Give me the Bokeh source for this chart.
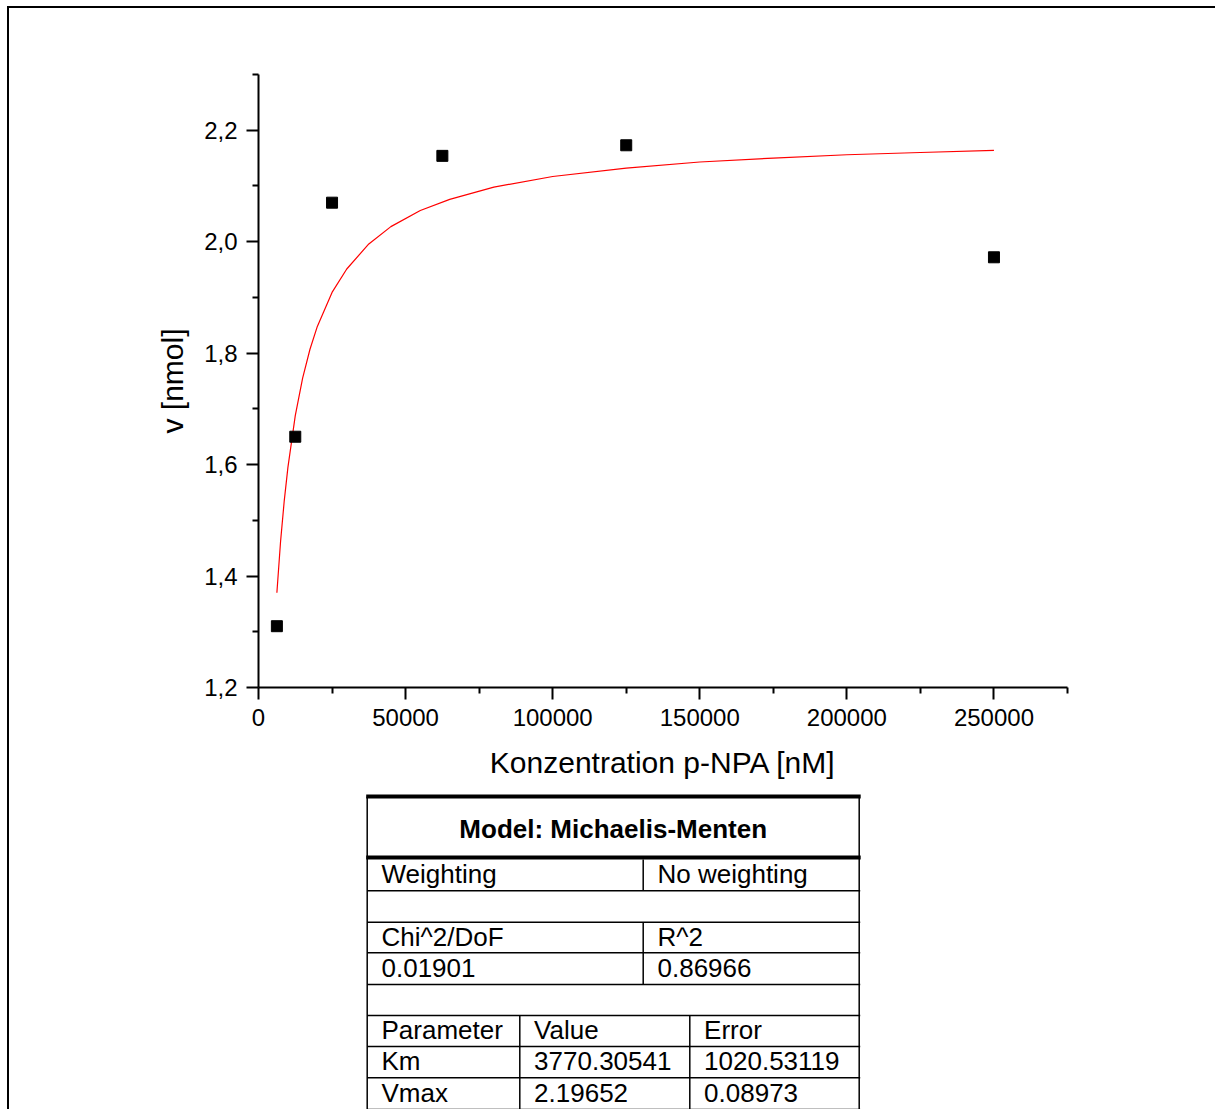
from bokeh.plotting import figure
from bokeh.models import Range1d, FixedTicker, CustomJSTickFormatter
from bokeh.layouts import column
from bokeh.core.properties import value
from bokeh.embed import file_html
from bokeh.resources import INLINE

# ---------------- data ----------------
conc = [6250, 12500, 25000, 62500, 125000, 250000]          # nM
rate = [1.31, 1.65, 2.07, 2.154, 2.173, 1.972]              # nmol

fit_x = [6250, 7500, 8750, 10000, 12500, 15000, 17500, 20000, 25000, 30000,
         37500, 45000, 55000, 65000, 80000, 100000, 125000, 150000, 175000,
         200000, 225000, 250000]
fit_y = [1.370, 1.462, 1.535, 1.595, 1.688, 1.755, 1.807, 1.848, 1.909, 1.951,
         1.996, 2.027, 2.056, 2.076, 2.098, 2.117, 2.132, 2.143, 2.150,
         2.156, 2.160, 2.164]

x_ticks = [0, 50000, 100000, 150000, 200000, 250000]
x_minor = [25000, 75000, 125000, 175000, 225000, 275000]
y_ticks = [1.2, 1.4, 1.6, 1.8, 2.0, 2.2]
y_minor = [1.3, 1.5, 1.7, 1.9, 2.1, 2.3]

x_label = "Konzentration p-NPA [nM]"
y_label = "v [nmol]"

table_title = "Model: Michaelis-Menten"
table_rows = [
    ["Weighting", "No weighting"],
    [],
    ["Chi^2/DoF", "R^2"],
    ["0.01901", "0.86966"],
    [],
    ["Parameter", "Value", "Error"],
    ["Km", "3770.30541", "1020.53119"],
    ["Vmax", "2.19652", "0.08973"],
]

FONT = "Liberation Sans"
X0, Y0 = 9, 8            # page position of the figures' top-left corner
W = 1206
BL, BR = 249, 148        # side borders -> frame from 258 to 1067
HA = 782

# ---------------- main plot ----------------
pA = figure(width=W, height=HA,
            x_range=Range1d(0, 275000), y_range=Range1d(1.2, 2.3),
            output_backend="svg", toolbar_location=None,
            min_border_left=BL, min_border_right=BR,
            min_border_top=66, min_border_bottom=HA - 66 - 613)
pA.outline_line_color = None
pA.xgrid.visible = False
pA.ygrid.visible = False

pA.line(fit_x, fit_y, line_color="red", line_width=1.2)
pA.scatter(conc, rate, marker="square", size=11, fill_color="black",
           line_color="black", line_width=1)

pA.xaxis.ticker = FixedTicker(ticks=x_ticks, minor_ticks=x_minor)
pA.yaxis.ticker = FixedTicker(ticks=y_ticks, minor_ticks=y_minor)
pA.xaxis.formatter = CustomJSTickFormatter(code="return tick.toFixed(0);")
pA.yaxis.formatter = CustomJSTickFormatter(code="return tick.toFixed(1).replace('.', ',');")
pA.xaxis.axis_label = x_label
pA.yaxis.axis_label = y_label

for ax in (pA.xaxis[0], pA.yaxis[0]):
    ax.axis_line_width = 2
    ax.axis_line_color = "black"
    ax.major_tick_line_width = 2
    ax.minor_tick_line_width = 2
    ax.major_tick_line_color = "black"
    ax.minor_tick_line_color = "black"
    ax.major_tick_out = 12
    ax.major_tick_in = 0
    ax.minor_tick_out = 6
    ax.minor_tick_in = 0
    ax.major_label_text_font = FONT
    ax.major_label_text_font_size = "24px"
    ax.major_label_text_color = "black"
    ax.major_label_standoff = 9
    ax.axis_label_text_font = FONT
    ax.axis_label_text_font_size = "30px"
    ax.axis_label_text_font_style = "normal"
    ax.axis_label_text_color = "black"
pA.xaxis[0].axis_label_standoff = 17
pA.yaxis[0].axis_label_standoff = 12

# ---------------- results table ----------------
TOP = Y0 + HA            # 790
BOTTOM = 1109
pB = figure(width=W, height=BOTTOM - TOP,
            x_range=Range1d(X0 + BL, X0 + W - BR), y_range=Range1d(BOTTOM, TOP),
            output_backend="svg", toolbar_location=None,
            min_border_left=BL, min_border_right=BR,
            min_border_top=0, min_border_bottom=0,
            x_axis_location=None, y_axis_location=None)
pB.outline_line_color = None
pB.xgrid.visible = False
pB.ygrid.visible = False

TL, TR = 366.7, 858.7
row_edges = [859, 890.3, 921.7, 952.3, 984, 1015, 1046, 1077.3, 1109]
col_edges = {2: [TL, 642.7], 3: [TL, 519.3, 689.3]}

# thick lines around title
pB.segment(x0=[TL - 1, TL - 1], y0=[796, 857], x1=[TR + 1.5, TR + 1.5], y1=[796, 857],
           line_color="black", line_width=4)
# thin horizontal row lines
pB.segment(x0=[TL] * (len(row_edges) - 1), y0=row_edges[1:],
           x1=[TR + 1] * (len(row_edges) - 1), y1=row_edges[1:],
           line_color="black", line_width=1.5)
# outer verticals
pB.segment(x0=[TL, TR], y0=[796, 796], x1=[TL, TR], y1=[1109, 1109],
           line_color="black", line_width=1.5)
# inner verticals
vx0, vy0, vy1 = [], [], []
for i, row in enumerate(table_rows):
    if len(row) > 1:
        for e in col_edges[len(row)][1:]:
            vx0.append(e)
            vy0.append(row_edges[i])
            vy1.append(row_edges[i + 1])
pB.segment(x0=vx0, y0=vy0, x1=vx0, y1=vy1, line_color="black", line_width=1.5)

# title
pB.text(x=[(TL + TR) / 2], y=[828], text=[table_title],
        text_font=value(FONT), text_font_size="26px", text_font_style="bold",
        text_align="center", text_baseline="middle", text_color="black")

# cell texts
tx, ty, tt = [], [], []
for i, row in enumerate(table_rows):
    if not row:
        continue
    edges = col_edges[len(row)]
    mid = (row_edges[i] + row_edges[i + 1]) / 2 - 0.8
    for j, s in enumerate(row):
        tx.append(edges[j] + 14.3)
        ty.append(mid)
        tt.append(s)
pB.text(x=tx, y=ty, text=tt, text_font=value(FONT), text_font_size="26px",
        text_align="left", text_baseline="middle", text_color="black")

layout = column(pA, pB, spacing=0,
                styles={"margin-left": "7px", "margin-top": "6px",
                        "border-top": "2px solid black",
                        "border-left": "2px solid black"})

open("out.html", "w").write(file_html(layout, INLINE))
